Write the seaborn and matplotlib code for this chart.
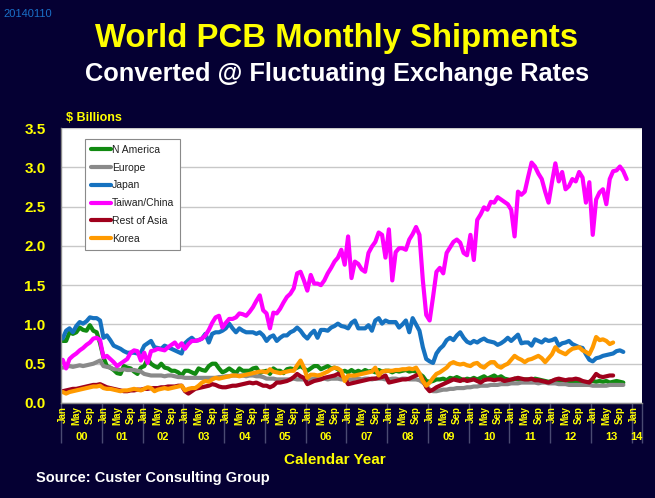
import matplotlib
matplotlib.use("Agg")
import matplotlib.pyplot as plt
import numpy as np
import pandas as pd
import seaborn as sns

# ---------------- data (US$ billions, monthly from Jan 2000) ----------------
regions = ["N America", "Europe", "Japan", "Taiwan/China", "Rest of Asia", "Korea"]

n_america = [
    0.79, 0.79, 0.90, 0.88, 0.90, 0.96, 0.93, 0.92, 0.99, 0.92, 0.90, 0.76,
    0.58, 0.47, 0.45, 0.42, 0.38, 0.37, 0.47, 0.45, 0.44, 0.40, 0.37, 0.45,
    0.47, 0.56, 0.50, 0.47, 0.45, 0.50, 0.45, 0.44, 0.41, 0.41, 0.39, 0.35,
    0.41, 0.41, 0.39, 0.37, 0.44, 0.42, 0.41, 0.47, 0.50, 0.50, 0.44, 0.39,
    0.41, 0.44, 0.41, 0.38, 0.44, 0.41, 0.41, 0.41, 0.44, 0.45, 0.38, 0.40,
    0.41, 0.37, 0.44, 0.41, 0.41, 0.38, 0.43, 0.44, 0.43, 0.45, 0.47, 0.44,
    0.41, 0.44, 0.47, 0.47, 0.43, 0.45, 0.47, 0.44, 0.45, 0.43, 0.39, 0.41,
    0.39, 0.42, 0.39, 0.41, 0.39, 0.42, 0.40, 0.41, 0.39, 0.42, 0.40, 0.41,
    0.41, 0.39, 0.41, 0.40, 0.41, 0.42, 0.40, 0.41, 0.40, 0.37, 0.34, 0.28,
    0.27, 0.28, 0.30, 0.30, 0.31, 0.29, 0.32, 0.31, 0.33, 0.31, 0.29, 0.31,
    0.30, 0.32, 0.30, 0.32, 0.34, 0.31, 0.33, 0.35, 0.32, 0.34, 0.31, 0.30,
    0.28, 0.31, 0.30, 0.29, 0.30, 0.30, 0.29, 0.31, 0.30, 0.29, 0.28, 0.27,
    0.28, 0.29, 0.28, 0.29, 0.28, 0.28, 0.27, 0.27, 0.26, 0.27, 0.26, 0.27,
    0.28, 0.27, 0.28, 0.27, 0.28, 0.26, 0.27, 0.28, 0.27, 0.26,
]

europe = [
    0.45, 0.46, 0.47, 0.46, 0.47, 0.48, 0.47, 0.48, 0.49, 0.50, 0.52, 0.54,
    0.47, 0.46, 0.45, 0.43, 0.43, 0.42, 0.43, 0.42, 0.42, 0.42, 0.41, 0.40,
    0.37, 0.36, 0.35, 0.35, 0.35, 0.35, 0.34, 0.35, 0.35, 0.34, 0.33, 0.33,
    0.32, 0.32, 0.32, 0.32, 0.32, 0.32, 0.32, 0.32, 0.32, 0.32, 0.33, 0.33,
    0.34, 0.34, 0.35, 0.35, 0.35, 0.35, 0.34, 0.35, 0.35, 0.34, 0.34, 0.33,
    0.31, 0.31, 0.31, 0.30, 0.30, 0.30, 0.30, 0.30, 0.31, 0.30, 0.30, 0.30,
    0.30, 0.30, 0.31, 0.31, 0.31, 0.31, 0.30, 0.31, 0.31, 0.31, 0.30, 0.30,
    0.30, 0.30, 0.31, 0.31, 0.30, 0.31, 0.31, 0.30, 0.31, 0.31, 0.31, 0.30,
    0.30, 0.31, 0.31, 0.30, 0.31, 0.31, 0.30, 0.30, 0.30, 0.29, 0.26, 0.22,
    0.17, 0.15, 0.15, 0.16, 0.17, 0.17, 0.18, 0.18, 0.19, 0.19, 0.19, 0.20,
    0.20, 0.21, 0.21, 0.22, 0.22, 0.22, 0.23, 0.23, 0.23, 0.24, 0.24, 0.24,
    0.25, 0.25, 0.25, 0.26, 0.26, 0.26, 0.26, 0.26, 0.25, 0.26, 0.26, 0.25,
    0.25, 0.25, 0.24, 0.24, 0.24, 0.23, 0.23, 0.23, 0.23, 0.23, 0.23, 0.23,
    0.22, 0.22, 0.22, 0.22, 0.22, 0.23, 0.23, 0.23, 0.23, 0.23,
]

japan = [
    0.82, 0.92, 0.95, 0.90, 0.98, 1.03, 1.01, 1.04, 1.09, 1.08, 1.08, 1.05,
    0.83, 0.86, 0.80, 0.73, 0.71, 0.69, 0.66, 0.64, 0.64, 0.64, 0.63, 0.64,
    0.73, 0.76, 0.79, 0.71, 0.70, 0.69, 0.73, 0.71, 0.69, 0.67, 0.65, 0.63,
    0.76, 0.80, 0.83, 0.79, 0.80, 0.82, 0.88, 0.77, 0.88, 0.90, 0.90, 0.92,
    0.95, 1.01, 0.95, 0.90, 0.95, 0.92, 0.90, 0.90, 0.90, 0.88, 0.90, 0.86,
    0.79, 0.84, 0.86, 0.79, 0.83, 0.86, 0.86, 0.90, 0.92, 0.96, 0.92, 0.86,
    0.82, 0.88, 0.92, 0.83, 0.93, 0.93, 0.92, 0.96, 0.98, 1.01, 0.98, 0.97,
    0.95, 1.02, 1.05, 0.95, 0.95, 0.95, 0.99, 0.92, 1.05, 1.08, 1.01, 1.05,
    1.03, 1.03, 1.03, 0.96, 1.00, 1.05, 0.90, 1.08, 1.00, 0.92, 0.71, 0.56,
    0.53, 0.51, 0.63, 0.69, 0.73, 0.80, 0.83, 0.80, 0.86, 0.90, 0.83, 0.78,
    0.76, 0.79, 0.77, 0.80, 0.82, 0.79, 0.78, 0.77, 0.74, 0.76, 0.79, 0.83,
    0.79, 0.83, 0.87, 0.76, 0.77, 0.77, 0.73, 0.81, 0.79, 0.77, 0.81, 0.79,
    0.80, 0.82, 0.73, 0.76, 0.77, 0.79, 0.75, 0.73, 0.71, 0.70, 0.62, 0.55,
    0.53, 0.57, 0.58, 0.60, 0.61, 0.62, 0.63, 0.66, 0.67, 0.65,
]

taiwan_china = [
    0.55, 0.44, 0.56, 0.60, 0.63, 0.67, 0.70, 0.74, 0.77, 0.82, 0.83, 0.80,
    0.58, 0.60, 0.56, 0.52, 0.47, 0.50, 0.53, 0.56, 0.64, 0.67, 0.66, 0.54,
    0.64, 0.51, 0.66, 0.67, 0.69, 0.68, 0.67, 0.71, 0.74, 0.77, 0.71, 0.76,
    0.69, 0.75, 0.79, 0.79, 0.80, 0.82, 0.86, 0.93, 1.02, 1.09, 1.11, 0.96,
    1.02, 1.07, 1.07, 1.09, 1.14, 1.13, 1.11, 1.16, 1.22, 1.30, 1.37, 1.18,
    1.14, 0.95, 1.15, 1.14, 1.20, 1.28, 1.35, 1.39, 1.46, 1.65, 1.67, 1.56,
    1.43, 1.63, 1.52, 1.52, 1.50, 1.56, 1.65, 1.72, 1.80, 1.85, 1.95, 1.76,
    2.12, 1.59, 1.80, 1.77, 1.70, 1.67, 1.91, 1.99, 2.05, 2.17, 2.14, 1.85,
    2.21, 1.56, 1.92, 1.97, 1.97, 1.95, 2.08, 2.15, 2.24, 2.14, 1.56, 1.12,
    1.05, 1.35, 1.67, 1.72, 1.65, 1.91, 1.98, 2.05, 2.08, 2.04, 1.91, 1.88,
    2.14, 1.82, 2.33, 2.40, 2.49, 2.46, 2.56, 2.55, 2.62, 2.59, 2.56, 2.53,
    2.46, 2.12, 2.69, 2.65, 2.69, 2.88, 3.06, 3.01, 2.92, 2.85, 2.69, 2.55,
    2.81, 3.05, 2.82, 2.94, 2.72, 2.76, 2.85, 2.82, 2.94, 2.87, 2.55, 2.81,
    2.14, 2.59, 2.68, 2.72, 2.53, 2.85, 2.95, 2.96, 3.01, 2.95, 2.85,
]

rest_of_asia = [
    0.15, 0.16, 0.17, 0.18, 0.18, 0.19, 0.20, 0.21, 0.22, 0.23, 0.23, 0.24,
    0.22, 0.20, 0.19, 0.18, 0.17, 0.16, 0.15, 0.15, 0.16, 0.16, 0.17, 0.17,
    0.18, 0.18, 0.19, 0.19, 0.19, 0.20, 0.20, 0.21, 0.21, 0.21, 0.22, 0.22,
    0.15, 0.12, 0.15, 0.18, 0.19, 0.20, 0.21, 0.22, 0.24, 0.23, 0.21, 0.20,
    0.20, 0.21, 0.22, 0.22, 0.23, 0.24, 0.25, 0.26, 0.25, 0.26, 0.24, 0.22,
    0.22, 0.20, 0.22, 0.26, 0.26, 0.27, 0.28, 0.30, 0.33, 0.37, 0.34, 0.32,
    0.24, 0.26, 0.28, 0.29, 0.30, 0.32, 0.33, 0.34, 0.35, 0.37, 0.35, 0.32,
    0.24, 0.25, 0.26, 0.27, 0.28, 0.29, 0.30, 0.31, 0.31, 0.32, 0.33, 0.35,
    0.26, 0.27, 0.28, 0.29, 0.30, 0.30, 0.31, 0.33, 0.35, 0.37, 0.30, 0.20,
    0.15, 0.17, 0.20, 0.22, 0.24, 0.26, 0.28, 0.30, 0.29, 0.28, 0.30, 0.28,
    0.29, 0.30, 0.28, 0.26, 0.29, 0.30, 0.30, 0.29, 0.30, 0.30, 0.28, 0.29,
    0.30, 0.31, 0.32, 0.31, 0.30, 0.30, 0.31, 0.29, 0.29, 0.28, 0.27, 0.26,
    0.28, 0.30, 0.31, 0.30, 0.29, 0.30, 0.30, 0.31, 0.30, 0.28, 0.27, 0.26,
    0.31, 0.37, 0.34, 0.33, 0.34, 0.35, 0.35,
]

korea = [
    0.14, 0.12, 0.14, 0.15, 0.16, 0.17, 0.18, 0.19, 0.20, 0.21, 0.21, 0.22,
    0.19, 0.18, 0.18, 0.17, 0.16, 0.15, 0.16, 0.16, 0.17, 0.18, 0.17, 0.16,
    0.18, 0.20, 0.19, 0.15, 0.17, 0.18, 0.19, 0.18, 0.19, 0.20, 0.21, 0.22,
    0.16, 0.18, 0.19, 0.19, 0.22, 0.26, 0.28, 0.27, 0.30, 0.32, 0.31, 0.32,
    0.33, 0.34, 0.35, 0.35, 0.34, 0.35, 0.36, 0.37, 0.38, 0.39, 0.40, 0.40,
    0.39, 0.43, 0.40, 0.39, 0.38, 0.39, 0.40, 0.41, 0.41, 0.48, 0.54, 0.45,
    0.32, 0.36, 0.36, 0.35, 0.36, 0.38, 0.40, 0.43, 0.45, 0.44, 0.41, 0.28,
    0.35, 0.35, 0.35, 0.36, 0.37, 0.38, 0.39, 0.40, 0.45, 0.35, 0.40, 0.41,
    0.41, 0.41, 0.42, 0.42, 0.43, 0.43, 0.44, 0.43, 0.45, 0.38, 0.28, 0.22,
    0.26, 0.32, 0.37, 0.39, 0.42, 0.45, 0.50, 0.52, 0.50, 0.49, 0.50, 0.48,
    0.47, 0.50, 0.51, 0.47, 0.45, 0.49, 0.52, 0.52, 0.47, 0.45, 0.48, 0.50,
    0.55, 0.60, 0.57, 0.55, 0.52, 0.55, 0.56, 0.58, 0.60, 0.57, 0.52, 0.57,
    0.62, 0.71, 0.66, 0.64, 0.62, 0.66, 0.69, 0.70, 0.71, 0.67, 0.65, 0.62,
    0.71, 0.84, 0.80, 0.81, 0.79, 0.75, 0.77,
]

month_labels = ["Jan", "May", "Sep"]
year_labels = ["00", "01", "02", "03", "04", "05", "06", "07",
               "08", "09", "10", "11", "12", "13", "14"]
n_categories = 171  # Jan 2000 .. Mar 2014 on the category axis

series = {
    "N America": n_america, "Europe": europe, "Japan": japan,
    "Taiwan/China": taiwan_china, "Rest of Asia": rest_of_asia, "Korea": korea,
}
rows = []
for name, vals in series.items():
    for i, v in enumerate(vals):
        rows.append((name, i, v))
df = pd.DataFrame(rows, columns=["Region", "Month", "Value"])

palette = {
    "N America": "#118a11", "Europe": "#8a8a8a", "Japan": "#1672c0",
    "Taiwan/China": "#ff00ff", "Rest of Asia": "#a0001c", "Korea": "#ff9a00",
}

NAVY = "#050033"
YELLOW = "#ffff00"
TICKGRAY = "#4a4a72"

sns.set_theme(style="white")
plt.rcParams["font.family"] = ["Liberation Sans", "DejaVu Sans"]

W, H = 655, 498
fig = plt.figure(figsize=(W / 100, H / 100), dpi=100, facecolor=NAVY)
ax = fig.add_axes([61 / W, 1 - 403 / H, 581 / W, 275 / H])
ax.set_facecolor("white")

sns.lineplot(data=df, x="Month", y="Value", hue="Region", hue_order=regions,
             palette=palette, linewidth=3.0, ax=ax, legend=True)

ax.set_xlim(-0.5, n_categories - 0.5)
ax.set_ylim(0, 3.5)
ax.set_yticks(np.arange(0, 3.51, 0.5))
ax.set_yticklabels([f"{v:.1f}" for v in np.arange(0, 3.51, 0.5)])
ax.yaxis.grid(True, color="#c8c8c8", linewidth=1.0)
ax.xaxis.grid(False)
ax.set_axisbelow(True)
for s in ["top", "right"]:
    ax.spines[s].set_visible(False)
for s in ["left", "bottom"]:
    ax.spines[s].set_color("#8a8a8a")
    ax.spines[s].set_linewidth(1.0)
ax.tick_params(axis="y", which="major", length=4, color="#8a8a8a", width=1,
               labelcolor=YELLOW, labelsize=11, pad=7)
for t in ax.get_yticklabels():
    t.set_fontweight("bold")

# month labels (Jan/May/Sep) on major ticks, month boundaries as minor ticks
mpos = [m for m in range(n_categories) if m % 12 in (0, 4, 8)]
mlab = [month_labels[(m % 12) // 4] for m in mpos]
ax.set_xticks(mpos)
ax.set_xticklabels(mlab, rotation=90, fontsize=7, fontweight="bold",
                   color=YELLOW, va="top", ha="center")
ax.set_xticks(np.arange(-0.5, n_categories, 1.0), minor=True)
ax.tick_params(axis="x", which="major", length=0, pad=2)
ax.tick_params(axis="x", which="minor", length=17, color=TICKGRAY, width=0.8,
               direction="out")
ax.set_xlabel("")
ax.set_ylabel("")

# year level of the category axis
sec = ax.secondary_xaxis("bottom")
bounds = list(np.arange(-0.5, n_categories, 12.0)) + [n_categories - 0.5]
sec.set_xticks(bounds)
sec.set_xticklabels([""] * len(bounds))
centers = [min(12 * k + 5.5, (12 * k - 0.5 + n_categories - 0.5) / 2)
           for k in range(len(year_labels))]
sec.set_xticks(centers, minor=True)
sec.set_xticklabels(year_labels, minor=True, fontsize=8, fontweight="bold",
                    color=YELLOW)
sec.tick_params(axis="x", which="major", length=29, color=TICKGRAY, width=1.0)
sec.tick_params(axis="x", which="minor", length=0, pad=21)
sec.spines["bottom"].set_visible(False)

# legend
leg = ax.legend(loc="upper left", bbox_to_anchor=(0.041, 0.96), frameon=True,
                fancybox=False, shadow=False, framealpha=1, edgecolor="#8a8a8a",
                facecolor="white", prop={"size": 7.5, "weight": "normal"},
                handlelength=2.0, handletextpad=0.05, labelspacing=0.75,
                borderpad=0.55, borderaxespad=0)
leg.get_frame().set_linewidth(0.8)
for line in leg.get_lines():
    line.set_linewidth(3.0)
for t in leg.get_texts():
    t.set_color("#202020")

# texts
fig.text(3 / W, 1 - 14 / H, "20140110", color="#1a70c8", fontsize=8,
         ha="left", va="center")
fig.text(0.514, 1 - 39 / H, "World PCB Monthly Shipments", color=YELLOW,
         fontsize=23.7, fontweight="bold", ha="center", va="center")
fig.text(0.514, 1 - 74 / H, "Converted @ Fluctuating Exchange Rates",
         color="white", fontsize=18.3, fontweight="bold", ha="center", va="center")
fig.text(66 / W, 1 - 118 / H, "$ Billions", color=YELLOW, fontsize=9,
         fontweight="bold", ha="left", va="center")
fig.text(335 / W, 1 - 460 / H, "Calendar Year", color=YELLOW, fontsize=11,
         fontweight="bold", ha="center", va="center")
fig.text(36 / W, 1 - 478 / H, "Source: Custer Consulting Group", color="white",
         fontsize=10.5, fontweight="bold", ha="left", va="center")

fig.savefig("out.png", dpi=100, facecolor=NAVY)
